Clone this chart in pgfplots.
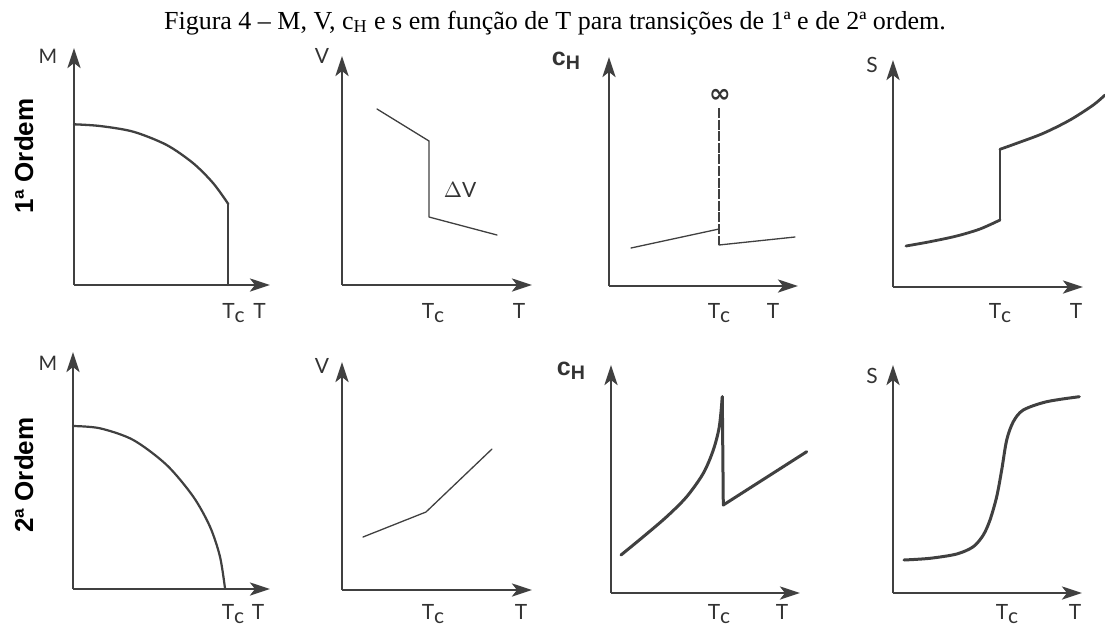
\documentclass[border=0pt]{standalone}
\usepackage{fontspec}
\setmainfont{Liberation Serif}
\newfontfamily\labfont{Lato}
\newfontfamily\boldsans{Liberation Sans}
\newfontfamily\symfont{DejaVu Sans}
\usepackage{pgfplots}
\pgfplotsset{compat=1.18}
\usetikzlibrary{arrows.meta}

\definecolor{ink}{HTML}{404040}
\definecolor{txt}{HTML}{333333}

% axis letter labels and the T_c mark
\newcommand\lt{\labfont\fontsize{10.5}{12}\selectfont}
\newcommand\Tc{T\raisebox{-2.2pt}{c}}
\newcommand\cH{{\boldsans\bfseries\fontsize{12.5}{13}\selectfont c\raisebox{-2pt}{\fontsize{9.8}{10}\selectfont H}}}

\pgfplotsset{
  panel/.style={
    x=0.5pt, y=0.5pt,
    anchor=south west,
    axis lines=left,
    axis line style={ink, line width=1.35pt, -{Stealth[length=10pt,width=6.5pt,inset=2.5pt]}},
    xtick=\empty, ytick=\empty,
    xmin=0, ymin=0,
    enlargelimits=false,
    clip=false,
  },
  curve/.style={ink, line width=#1, line join=round, line cap=round, mark=none},
}

\begin{document}
\begin{tikzpicture}
\path[use as bounding box] (0,0) rectangle (552.5pt,-314pt);

\node[anchor=base, font=\fontsize{13}{15}\selectfont] at (277.5pt,-14.5pt)
  {Figura 4 – M, V, c\textsubscript{H} e s em função de T para transições de 1ª e de 2ª ordem.};

\node[rotate=90, anchor=base, font=\boldsans\bfseries\fontsize{13}{15}\selectfont] at (16.5pt,-78pt) {1ª Ordem};
\node[rotate=90, anchor=base, font=\boldsans\bfseries\fontsize{13}{15}\selectfont] at (16.5pt,-237.5pt) {2ª Ordem};

% ---------- 1st order: M ----------
\begin{axis}[panel, at={(37pt,-142.5pt)}, xmax=196, ymax=237]
\addplot[curve=1.15pt, smooth] coordinates {(0,160.7) (26,159) (59.3,153.3) (92.7,140) (119.3,121.7) (139.3,101.7) (154.3,81)};
\addplot[curve=1.15pt] coordinates {(154.3,81) (154.3,0)};
\node[anchor=base, text=txt, font=\lt\fontsize{10}{11}\selectfont] at (-26,222) {M};
\node[anchor=base, text=txt, font=\lt] at (159.5,-33) {\Tc};
\node[anchor=base, text=txt, font=\lt] at (185.5,-33) {T};
\end{axis}

% ---------- 1st order: V ----------
\begin{axis}[panel, at={(171pt,-142.5pt)}, xmax=190, ymax=229]
\addplot[curve=0.65pt] coordinates {(35,176) (87,144) (87,68) (155,50)};
\node[anchor=base, text=txt, font=\lt] at (-20,222) {V};
\node[anchor=base, text=txt, font=\lt] at (118,88) {$\Delta$V};
\node[anchor=base, text=txt, font=\lt] at (91,-33) {\Tc};
\node[anchor=base, text=txt, font=\lt] at (177,-33) {T};
\end{axis}

% ---------- 1st order: c_H ----------
\begin{axis}[panel, at={(304.5pt,-143pt)}, xmax=189, ymax=229]
\addplot[curve=0.65pt] coordinates {(22,38) (110,57)};
\addplot[curve=0.65pt] coordinates {(110,41) (186,49)};
\addplot[ink, line width=1.4pt, dash pattern=on 5pt off 0.8pt, mark=none] coordinates {(110,178) (110,41)};
\node[text=txt, font=\symfont\bfseries\fontsize{13}{13}\selectfont] at (111,190) {∞};
\node[anchor=base, text=txt] at (-43,221) {\cH};
\node[anchor=base, text=txt, font=\lt] at (110,-32) {\Tc};
\node[anchor=base, text=txt, font=\lt] at (164,-32) {T};
\end{axis}

% ---------- 1st order: s ----------
\begin{axis}[panel, at={(446.5pt,-143.5pt)}, xmax=190, ymax=227]
\addplot[curve=1.4pt, smooth] coordinates {(13,41) (37,45.3) (63.7,51) (87,58) (107,67)};
\addplot[curve=1.4pt] coordinates {(107,67) (107,137.7)};
\addplot[curve=1.4pt, smooth] coordinates {(107,137.7) (123.7,143.7) (150.3,153.7) (177,167) (200.3,182) (212,192)};
\node[anchor=base, text=txt, font=\lt] at (-21,215) {S};
\node[anchor=base, text=txt, font=\lt] at (107,-31) {\Tc};
\node[anchor=base, text=txt, font=\lt] at (183,-31) {T};
\end{axis}

% ---------- 2nd order: M ----------
\begin{axis}[panel, at={(36.5pt,-294.5pt)}, xmax=197, ymax=237]
\addplot[curve=1.1pt, smooth] coordinates {(0,163) (27,160.7) (60.3,149) (93.7,124) (120.3,92.3) (137,62.3) (147,32.3) (152,0.7)};
\node[anchor=base, text=txt, font=\lt\fontsize{10}{11}\selectfont] at (-25,219) {M};
\node[anchor=base, text=txt, font=\lt] at (160,-30) {\Tc};
\node[anchor=base, text=txt, font=\lt] at (185,-30) {T};
\end{axis}

% ---------- 2nd order: V ----------
\begin{axis}[panel, at={(171pt,-295pt)}, xmax=190, ymax=228]
\addplot[curve=0.65pt] coordinates {(21,53) (84,78) (150,141)};
\node[anchor=base, text=txt, font=\lt] at (-20,217) {V};
\node[anchor=base, text=txt, font=\lt] at (91,-29) {\Tc};
\node[anchor=base, text=txt, font=\lt] at (179,-29) {T};
\end{axis}

% ---------- 2nd order: c_H ----------
\begin{axis}[panel, at={(305.5pt,-296.5pt)}, xmax=189, ymax=228]
\addplot[curve=1.5pt, smooth] coordinates {(10,38) (32.3,56.3) (55.7,76.3) (75.7,96.3) (92.3,119.7) (102.3,143) (108.3,166.3) (111.3,196.3)};
\addplot[curve=1.5pt] coordinates {(111.3,196.3) (112.3,88) (195.7,141.3)};
\node[anchor=base, text=txt] at (-40,218) {\cH};
\node[anchor=base, text=txt, font=\lt] at (108,-26) {\Tc};
\node[anchor=base, text=txt, font=\lt] at (171,-26) {T};
\end{axis}

% ---------- 2nd order: s ----------
\begin{axis}[panel, at={(446.5pt,-296.5pt)}, xmax=189, ymax=228]
\addplot[curve=1.5pt, smooth] coordinates {(11,33) (37,34.7) (63.7,39) (80.3,46.3) (90.3,58) (97,73) (103.7,96.3) (108.7,123) (113.7,153) (120.3,171.3) (130.3,183) (153.7,191.3) (186.3,196.3)};
\node[anchor=base, text=txt, font=\lt] at (-21,210) {S};
\node[anchor=base, text=txt, font=\lt] at (114,-26) {\Tc};
\node[anchor=base, text=txt, font=\lt] at (182,-26) {T};
\end{axis}
\end{tikzpicture}
\end{document}
